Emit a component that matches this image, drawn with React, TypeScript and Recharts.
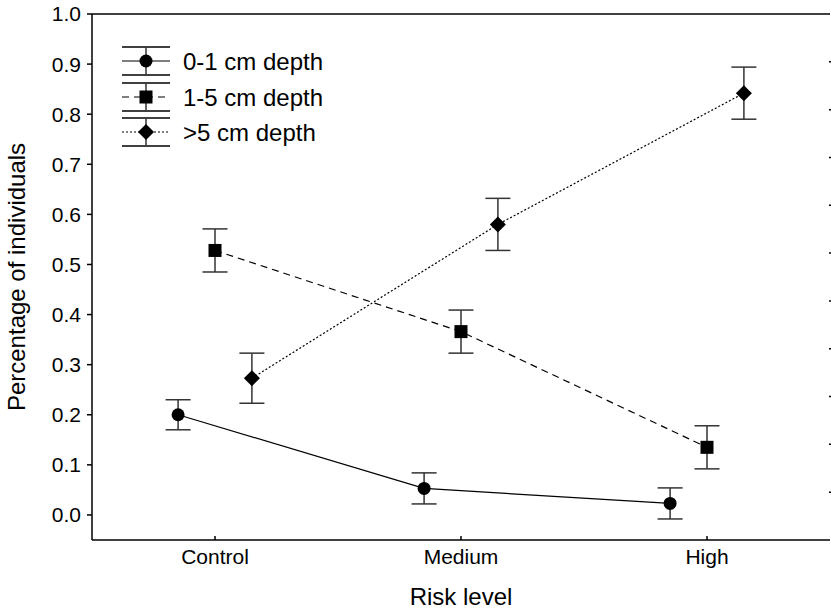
import { ScatterChart, Scatter, XAxis, YAxis, ErrorBar, ReferenceLine, Legend, Label } from 'recharts';

const categories = ['Control', 'Medium', 'High'];
const offsets = [-0.15, 0, 0.15];

const depth01 = [0.2, 0.053, 0.023];
const err01 = [0.03, 0.031, 0.031];
const depth15 = [0.528, 0.366, 0.135];
const err15 = [0.043, 0.043, 0.043];
const depth5 = [0.273, 0.58, 0.842];
const err5 = [0.05, 0.052, 0.052];

const yTicks = [0, 0.1, 0.2, 0.3, 0.4, 0.5, 0.6, 0.7, 0.8, 0.9, 1.0];
const rightTicks = [0.0455, 0.1409, 0.2364, 0.3318, 0.4273, 0.5227, 0.6182, 0.7136, 0.8091, 0.9045];

const FONT = '"Liberation Sans", Arial, sans-serif';

const build = (vals: number[], errs: number[], shift: number) =>
  vals.map((v, i) => ({ x: i + shift, y: v, err: errs[i], cat: categories[i] }));

const Circle = ({ cx, cy }: any) => <circle cx={cx} cy={cy} r={6.5} fill="#000" />;
const Square = ({ cx, cy }: any) => <rect x={cx - 6.5} y={cy - 6.5} width={13} height={13} fill="#000" />;
const Diamond = ({ cx, cy }: any) => (
  <polygon points={`${cx},${cy - 8} ${cx + 8},${cy} ${cx},${cy + 8} ${cx - 8},${cy}`} fill="#000" />
);

const series = [
  { name: '0-1 cm depth', data: build(depth01, err01, offsets[0]), shape: Circle, dash: undefined },
  { name: '1-5 cm depth', data: build(depth15, err15, offsets[1]), shape: Square, dash: '7 5' },
  { name: '>5 cm depth', data: build(depth5, err5, offsets[2]), shape: Diamond, dash: '2 2' },
];

const XTick = ({ x, y, payload }: any) => (
  <g>
    <line x1={x} x2={x} y1={y} y2={y - 4} stroke="#000" strokeWidth={1.5} />
    <text x={x} y={y + 24} textAnchor="middle" fontSize={21} fontFamily={FONT} fill="#000">
      {categories[payload.value]}
    </text>
  </g>
);

const RightTick = ({ x, y }: any) => (
  <line x1={x - 3} x2={x} y1={y} y2={y} stroke="#000" strokeWidth={1.5} />
);

const renderLegend = () => {
  const rows = [61, 97, 132];
  return (
    <svg width={360} height={160}>
      {series.map((s, i) => {
        const cy = rows[i];
        const Shape = s.shape;
        return (
          <g key={s.name}>
            <line x1={122} x2={170} y1={cy - 14} y2={cy - 14} stroke="#000" strokeWidth={1.5} />
            <line x1={122} x2={170} y1={cy + 14} y2={cy + 14} stroke="#000" strokeWidth={1.5} />
            <line x1={146} x2={146} y1={cy - 14} y2={cy + 14} stroke="#333" strokeWidth={1.5} />
            <line x1={122} x2={170} y1={cy} y2={cy} stroke="#000" strokeWidth={1.2} strokeDasharray={s.dash} />
            <Shape cx={146} cy={cy} />
            <text x={183} y={cy + 8.5} fontSize={24} fontFamily={FONT} fill="#000">
              {s.name}
            </text>
          </g>
        );
      })}
    </svg>
  );
};

export default function App() {
  return (
    <div style={{ position: 'absolute', left: 0, top: 0, background: '#fff' }}>
      <ScatterChart width={831} height={611} margin={{ top: 14, right: 0, bottom: 0, left: 0 }}>
        <XAxis
          type="number"
          dataKey="x"
          domain={[-0.5, 2.5]}
          ticks={[0, 1, 2]}
          height={71}
          tickSize={0}
          tickMargin={0}
          tick={<XTick />}
          axisLine={{ stroke: '#000', strokeWidth: 1.5 }}
        >
          <Label
            content={() => (
              <text x={461} y={605} textAnchor="middle" fontSize={24} fontFamily={FONT} fill="#000">
                Risk level
              </text>
            )}
          />
        </XAxis>
        <YAxis
          type="number"
          dataKey="y"
          domain={[-0.05, 1]}
          ticks={yTicks}
          width={92}
          tickSize={5}
          tickMargin={6}
          tickFormatter={(v: number) => v.toFixed(1)}
          tick={{ fill: '#000', fontSize: 21, fontFamily: FONT }}
          tickLine={{ stroke: '#000', strokeWidth: 1.5 }}
          axisLine={{ stroke: '#000', strokeWidth: 1.5 }}
          allowDataOverflow
        >
          <Label
            content={() => (
              <text
                x={25}
                y={277}
                transform="rotate(-90 25 277)"
                textAnchor="middle"
                fontSize={24}
                fontFamily={FONT}
                fill="#000"
              >
                Percentage of individuals
              </text>
            )}
          />
        </YAxis>
        <YAxis
          yAxisId="right"
          orientation="right"
          type="number"
          domain={[-0.05, 1]}
          ticks={rightTicks}
          width={1}
          tickSize={0}
          tick={<RightTick />}
          axisLine={false}
          allowDataOverflow
        />
        <ReferenceLine y={1} stroke="#000" strokeWidth={1.5} />
        <Legend
          content={renderLegend}
          layout="vertical"
          align="center"
          verticalAlign="middle"
          wrapperStyle={{ left: 0, top: 0, width: 360, height: 160 }}
        />
        {series.map((s) => (
          <Scatter
            key={s.name}
            name={s.name}
            data={s.data}
            shape={s.shape}
            line={{ stroke: '#000', strokeWidth: 1.2, strokeDasharray: s.dash }}
            lineType="joint"
            isAnimationActive={false}
          >
            <ErrorBar
              dataKey="err"
              direction="y"
              width={12.5}
              stroke="#333"
              strokeWidth={1.5}
              isAnimationActive={false}
            />
          </Scatter>
        ))}
      </ScatterChart>
    </div>
  );
}
